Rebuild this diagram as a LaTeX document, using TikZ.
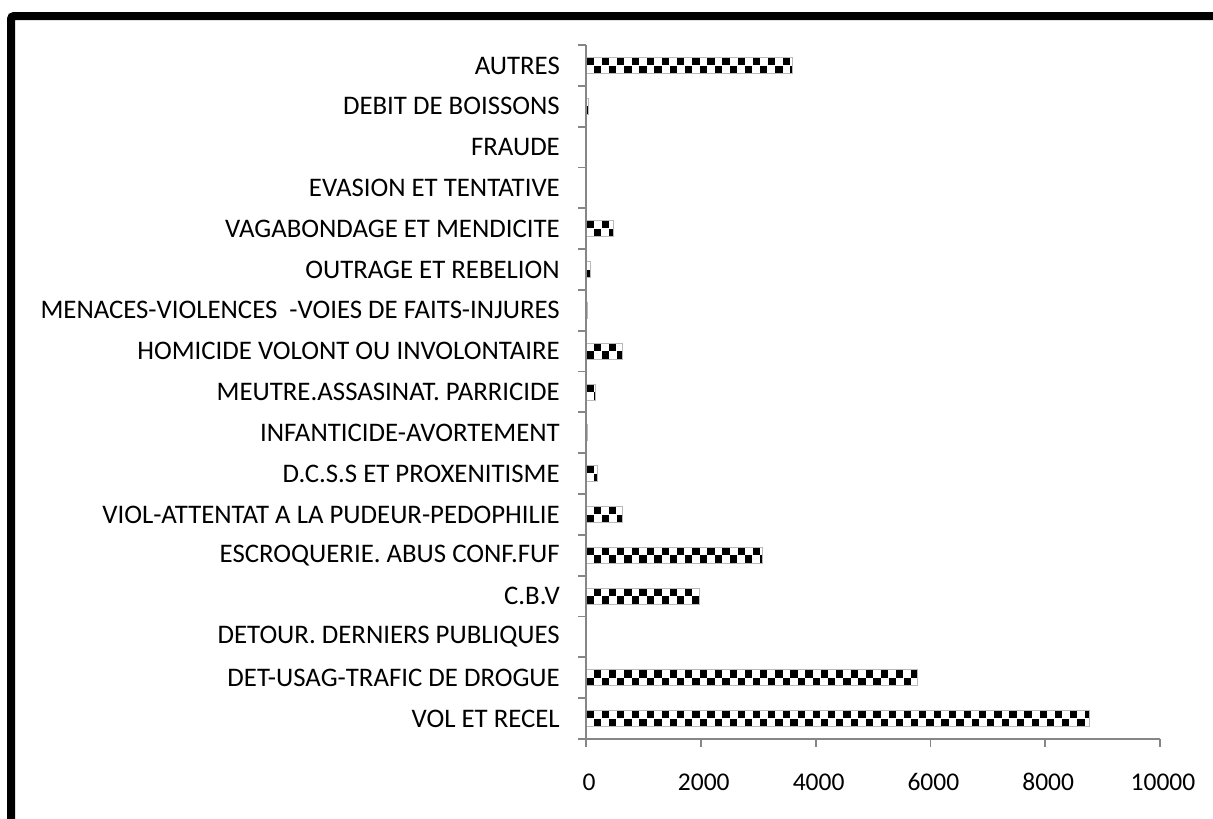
\documentclass[tikz,border=0pt]{standalone}
\usepackage{fontspec}
\setmainfont{Carlito}
\definecolor{axisgray}{HTML}{868686}
\newcommand\chkbar[2]{%
  \pgfmathsetmacro\yc{45+40.82*(#1+0.5)}%
  \pgfmathsetmacro\xe{586+0.0574*#2}%
  \pgfmathtruncatemacro\nc{ceil((\xe-586)/7.55)}%
  \begin{scope}
    \clip (586.5,\yc-8) rectangle (\xe,\yc+8);
    \foreach \c in {0,...,\nc}{%
      \pgfmathsetmacro\xa{586.5+7.55*\c}%
      \pgfmathtruncatemacro\cpar{mod(\c+#1,2)}%
      \ifnum\cpar=0
        \fill[black] (\xa,\yc-8) rectangle ++(7.3,7.8);
      \else
        \fill[black] (\xa,\yc+0.2) rectangle ++(7.3,7.8);
      \fi
    }
  \end{scope}
  \draw[gray!55,line width=0.8] (586,\yc-8) rectangle (\xe,\yc+8);
}
\begin{document}
\begin{tikzpicture}[x=1pt,y=-1pt,
  catlabel/.style={anchor=east,inner sep=0pt,font=\fontsize{26.8}{30}\selectfont},
  ticklabel/.style={anchor=center,inner sep=0pt,font=\fontsize{25.5}{30}\selectfont},
  axisline/.style={draw=axisgray,line width=1.8}]
\useasboundingbox (0,0) rectangle (1213,819);
\fill[white] (0,0) rectangle (1213,819);
% frame
\draw[line width=8,rounded corners=3] (11,840) -- (11,16) -- (1240,16);
% bars
\foreach \i/\v in {0/3590,1/50,4/470,5/80,6/30,7/640,8/170,9/25,10/190,11/640,12/3080,13/1970,14/10,15/5770,16/8763}{
  \chkbar{\i}{\v}
}
% axes
\coordinate (o) at (586,739);
\coordinate (top) at (586,45);
\coordinate (xend) at (1160,739);
\draw[axisline] (top) -- (o) -- (xend);
\foreach \k in {0,...,17}{
  \draw[axisline] (578,45+40.82*\k) -- (586,45+40.82*\k);
}
\foreach \k/\t in {0/0,1/2000,2/4000,3/6000,4/8000,5/10000}{
  \draw[axisline] (586+114.8*\k,739) -- (586+114.8*\k,747);
  \node[ticklabel] (t\k) at (586+114.8*\k+3,782) {\t};
}
% category labels
\foreach \i/\lab in {0/AUTRES,1/DEBIT DE BOISSONS,2/FRAUDE,3/EVASION ET TENTATIVE,4/VAGABONDAGE ET MENDICITE,5/OUTRAGE ET REBELION,6/MENACES-VIOLENCES~~-VOIES DE FAITS-INJURES,7/HOMICIDE VOLONT OU INVOLONTAIRE,8/MEUTRE.ASSASINAT. PARRICIDE,9/INFANTICIDE-AVORTEMENT,10/D.C.S.S ET PROXENITISME,11/VIOL-ATTENTAT A LA PUDEUR-PEDOPHILIE,12/ESCROQUERIE. ABUS CONF.FUF,13/C.B.V,14/DETOUR. DERNIERS PUBLIQUES,15/DET-USAG-TRAFIC DE DROGUE,16/VOL ET RECEL}{
  \node[catlabel] (c\i) at (560,45+40.82*\i+20.41) {\lab};
}
\end{tikzpicture}
\end{document}
